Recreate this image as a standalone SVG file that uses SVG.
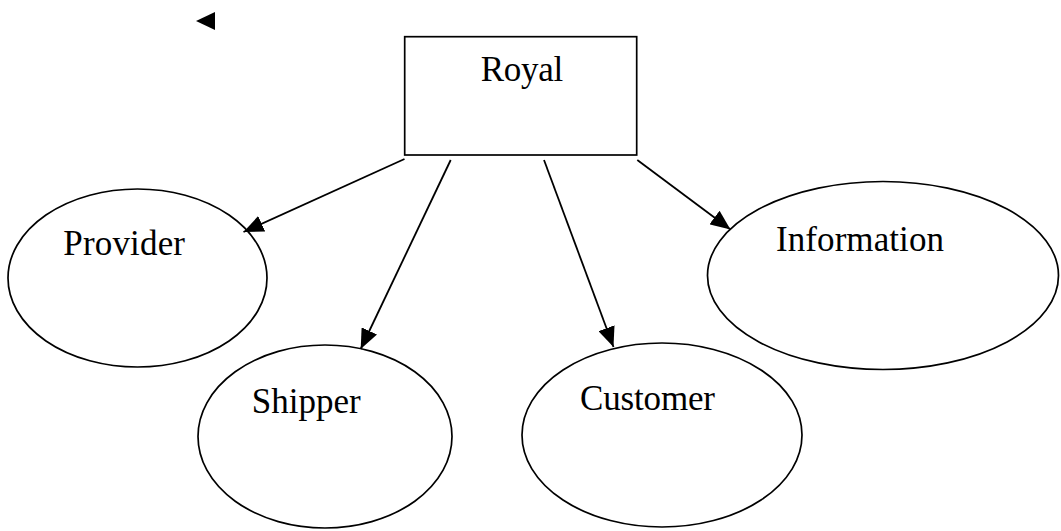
<svg xmlns="http://www.w3.org/2000/svg" width="1061" height="531" viewBox="0 0 1061 531">
  <style>
    .shape { fill: none; stroke: #000; stroke-width: 1.7; }
    .label { font-family: "Liberation Serif", "Times New Roman", serif; font-size: 35px; fill: #000; }
    .edge { stroke: #000; stroke-width: 1.8; fill: none; marker-end: url(#head); }
  </style>
  <defs>
    <marker id="head" viewBox="0 0 20 17" refX="20" refY="8.5" markerWidth="20" markerHeight="17" markerUnits="userSpaceOnUse" orient="auto">
      <path d="M0,0 L20,8.5 L0,17 Z" fill="#000"/>
    </marker>
  </defs>

  <!-- stray arrowhead -->
  <path d="M196,21 L215,12 L215,30 Z" fill="#000"/>

  <g id="royal">
    <rect class="shape" x="404.7" y="36.7" width="232" height="118.3"/>
    <text class="label" x="480.7" y="80.7" textLength="82.6">Royal</text>
  </g>

  <g id="provider">
    <ellipse class="shape" cx="137.5" cy="278" rx="129.5" ry="89"/>
    <text class="label" x="63.3" y="255" textLength="121.7">Provider</text>
  </g>

  <g id="shipper">
    <ellipse class="shape" cx="325" cy="436.5" rx="127" ry="91.5"/>
    <text class="label" x="251.7" y="412.7" textLength="109">Shipper</text>
  </g>

  <g id="customer">
    <ellipse class="shape" cx="662" cy="435" rx="140" ry="92"/>
    <text class="label" x="580" y="410" textLength="135">Customer</text>
  </g>

  <g id="information">
    <ellipse class="shape" cx="883" cy="275.5" rx="175.5" ry="94"/>
    <text class="label" x="776" y="251" textLength="168">Information</text>
  </g>

  <g id="connectors">
    <line class="edge" x1="404.5" y1="159" x2="243.5" y2="232"/>
    <line class="edge" x1="450.7" y1="160" x2="360.7" y2="349"/>
    <line class="edge" x1="544" y1="160" x2="613.5" y2="347"/>
    <line class="edge" x1="637.3" y1="160" x2="730.5" y2="229.5"/>
  </g>
</svg>
